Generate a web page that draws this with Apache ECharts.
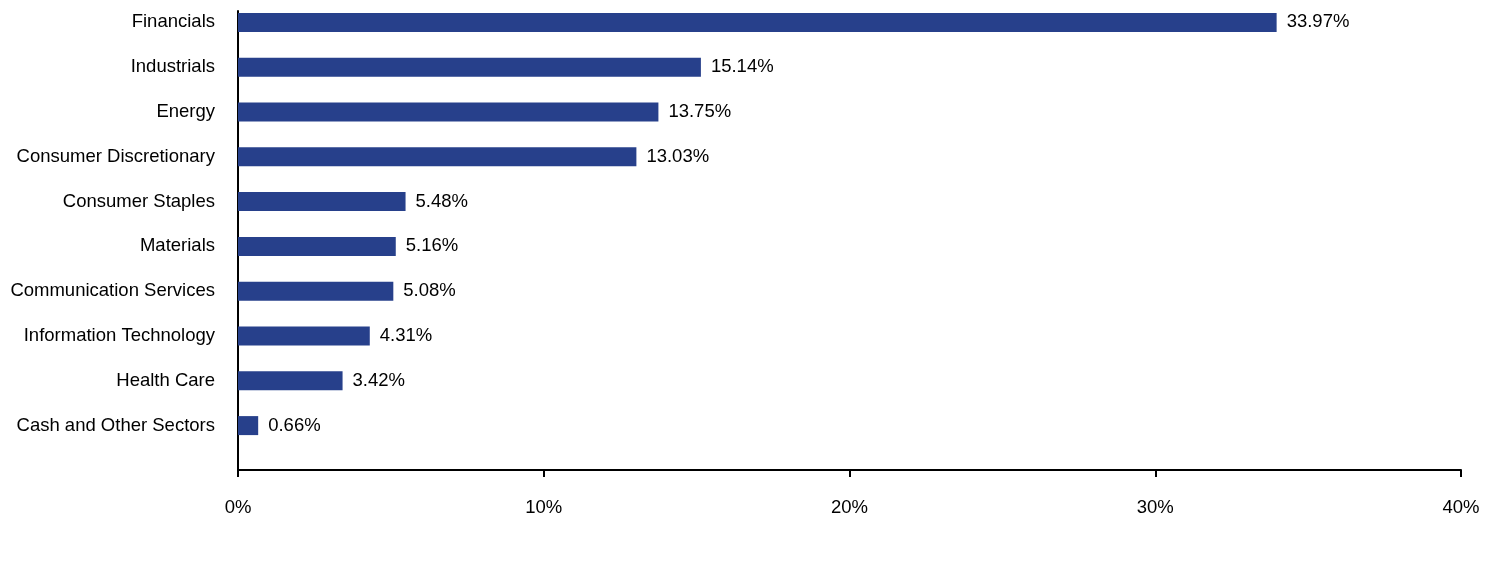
<!DOCTYPE html>
<html>
<head>
<meta charset="utf-8">
<script src="https://cdn.jsdelivr.net/npm/echarts@6/dist/echarts.min.js"></script>
<style>
  html, body { margin: 0; padding: 0; background: #fff; }
  #chart { width: 1500px; height: 564px; }
</style>
</head>
<body>
<div id="chart"></div>
<script>
// sector weights, top to bottom
const sectors = ['Financials', 'Industrials', 'Energy', 'Consumer Discretionary', 'Consumer Staples',
  'Materials', 'Communication Services', 'Information Technology', 'Health Care', 'Cash and Other Sectors'];
const weights = [33.97, 15.14, 13.75, 13.03, 5.48, 5.16, 5.08, 4.31, 3.42, 0.66];
const xMin = 0, xMax = 40, xStep = 10;

const font = 'Arial, "Liberation Sans", sans-serif';
const chart = echarts.init(document.getElementById('chart'));

chart.setOption({
  animation: false,
  textStyle: { fontFamily: font },
  grid: [
    // bars
    { left: 238, right: 39, top: -2, height: 450 },
    // frame with the axis lines
    { left: 238, right: 39, top: 11, bottom: 94 }
  ],
  xAxis: [
    { gridIndex: 0, type: 'value', min: xMin, max: xMax, show: false },
    {
      gridIndex: 1, type: 'value', min: xMin, max: xMax, interval: xStep,
      axisLine: { show: true, lineStyle: { color: '#000', width: 2 } },
      axisTick: { show: true, length: 7, lineStyle: { color: '#000', width: 2 } },
      splitLine: { show: false },
      axisLabel: { formatter: '{value}%', color: '#000', fontSize: 18.5, margin: 28, fontFamily: font }
    }
  ],
  yAxis: [
    {
      gridIndex: 0, type: 'category', data: sectors, inverse: true,
      axisLine: { show: false }, axisTick: { show: false },
      axisLabel: { color: '#000', fontSize: 18.5, margin: 23, fontFamily: font }
    },
    {
      gridIndex: 1, type: 'value', min: 0, max: 1,
      axisLine: { show: true, lineStyle: { color: '#000', width: 2 } },
      axisTick: { show: false }, axisLabel: { show: false }, splitLine: { show: false }
    }
  ],
  series: [{
    type: 'bar',
    xAxisIndex: 0, yAxisIndex: 0,
    data: weights,
    barWidth: 19,
    itemStyle: { color: '#27408b' },
    label: {
      show: true, position: 'right', distance: 10,
      formatter: p => p.value.toFixed(2) + '%',
      color: '#000', fontSize: 18.5, fontFamily: font
    }
  }]
});
</script>
</body>
</html>
